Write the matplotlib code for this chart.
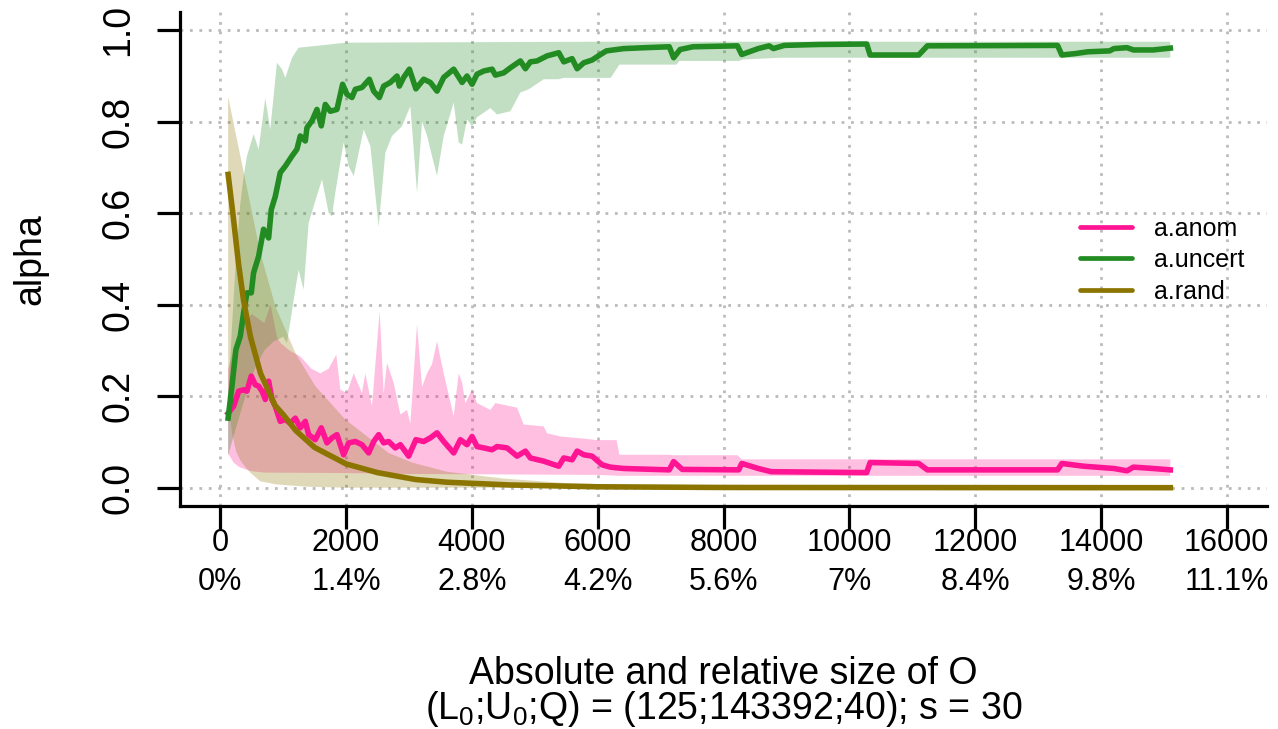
import numpy as np
import matplotlib
matplotlib.use("Agg")
import matplotlib.pyplot as plt

plt.rcParams['font.family'] = ['Liberation Sans', 'DejaVu Sans']
plt.rcParams['mathtext.fontset'] = 'custom'
plt.rcParams['mathtext.rm'] = 'Liberation Sans'
plt.rcParams['mathtext.it'] = 'Liberation Sans'
plt.rcParams['mathtext.default'] = 'regular'

# ---------------- data ----------------
# a.uncert mean
unc_x = [125, 186, 249, 318, 371, 424, 493, 530, 610, 689, 769, 811, 875, 954, 1034, 1140,
         1219, 1272, 1352, 1378, 1458, 1537, 1606, 1670, 1749, 1855, 1945, 2014, 2094, 2147,
         2253, 2370, 2439, 2529, 2598, 2704, 2810, 2847, 2916, 3006, 3110, 3234, 3340, 3446,
         3552, 3711, 3844, 3923, 4003, 4082, 4188, 4321, 4374, 4506, 4612, 4771, 4851, 4930,
         5036, 5195, 5381, 5461, 5593, 5673, 5779, 5911, 6044, 6138, 6414, 6759, 7138, 7207,
         7310, 7517, 8221, 8290, 8552, 8724, 8793, 8966, 9517, 10276, 10331, 11103, 11241,
         13310, 13379, 13586, 13793, 14138, 14207, 14414, 14517, 14828, 15103]
unc_y = [.152, .222, .302, .331, .382, .426, .426, .470, .506, .565, .546, .608, .637, .689, .703, .725,
         .740, .769, .758, .787, .802, .827, .791, .838, .823, .827, .882, .860, .853, .871,
         .875, .893, .867, .853, .878, .886, .900, .878, .897, .915, .872, .893, .886, .867,
         .897, .915, .886, .900, .882, .904, .911, .915, .902, .907, .918, .933, .916, .931,
         .933, .944, .951, .931, .938, .916, .929, .935, .947, .955, .960, .962, .964, .940,
         .958, .964, .966, .947, .960, .966, .960, .967, .969, .970, .946, .946, .966,
         .967, .946, .949, .953, .955, .960, .962, .957, .957, .961]

# a.uncert band
unc_up_x = [125, 186, 249, 318, 371, 424, 530, 610, 716, 795, 901, 981, 1034, 1140, 1246, 1600,
            2000, 6000, 15103]
unc_up_y = [.20, .35, .50, .62, .68, .725, .773, .74, .852, .783, .929, .915, .896, .94, .962, .967,
            .973, .975, .975]
unc_lo_x = [125, 186, 249, 400, 550, 700, 850, 1000, 1060, 1193, 1246, 1325, 1405, 1511, 1617,
            1723, 1776, 1829, 1961, 2041, 2121, 2200, 2280, 2386, 2518, 2624, 2730, 2889, 3022,
            3128, 3208, 3287, 3366, 3446, 3552, 3711, 3790, 3844, 3923, 4003, 4082, 4295, 4400,
            4612, 4771, 4904, 5142, 5381, 5461, 6207, 6345, 7250, 7300, 8250, 8300, 8900, 15103]
unc_lo_y = [.07, .10, .13, .20, .26, .30, .32, .33, .316, .433, .476, .433, .579, .627, .674,
            .601, .593, .645, .755, .703, .681, .732, .783, .747, .571, .732, .769, .79, .834,
            .645, .80, .77, .725, .682, .769, .842, .755, .75, .805, .79, .81, .83, .816,
            .823, .864, .871, .893, .893, .896, .896, .925, .925, .933, .933, .936, .940, .940]

# a.anom mean
anom_x = [125, 212, 292, 371, 424, 493, 557, 610, 663, 716, 769, 822, 875, 954, 1034, 1113,
          1193, 1272, 1352, 1405, 1511, 1606, 1696, 1776, 1855, 1961, 2041, 2147, 2253, 2359,
          2439, 2518, 2598, 2677, 2783, 2863, 2995, 3110, 3234, 3340, 3446, 3552, 3711, 3817,
          3923, 4003, 4082, 4188, 4321, 4400, 4559, 4718, 4851, 4930, 5142, 5381, 5461, 5593,
          5673, 5779, 5911, 6070, 6200, 6414, 7138, 7207, 7345, 8241, 8290, 8552, 8759, 10276,
          10331, 11103, 11241, 13310, 13379, 13724, 14207, 14414, 14517, 14828, 15103]
anom_y = [.163, .178, .211, .214, .211, .244, .225, .222, .211, .193, .233, .193, .178, .145, .149, .141,
          .152, .131, .145, .116, .105, .131, .098, .109, .116, .072, .098, .101, .094, .076,
          .101, .116, .098, .101, .087, .094, .069, .105, .101, .109, .120, .101, .076, .105,
          .094, .112, .090, .087, .083, .090, .087, .069, .080, .065, .058, .047, .065, .061,
          .080, .072, .069, .050, .045, .042, .039, .057, .040, .039, .053, .042, .035, .033,
          .055, .053, .039, .039, .053, .047, .042, .037, .045, .042, .039]

# a.anom band
anom_up_x = [125, 212, 292, 400, 500, 600, 700, 800, 900, 954, 1100, 1272, 1450, 1590, 1723, 1845,
             1909, 2015, 2121, 2253, 2306, 2412, 2534, 2598, 2651, 2757, 2863, 2969, 3022, 3128,
             3208, 3287, 3366, 3446, 3552, 3711, 3790, 3844, 3897, 4003, 4082, 4295, 4374, 4718,
             4824, 5142, 5195, 5408, 5726, 6000, 6300, 6345, 7138, 7207, 8221, 8290, 15103]
anom_up_y = [.26, .30, .33, .36, .38, .37, .36, .40, .33, .317, .30, .287, .26, .25, .26, .291,
             .214, .207, .25, .207, .25, .178, .386, .207, .273, .229, .16, .17, .14, .357,
             .22, .25, .27, .32, .25, .156, .25, .23, .185, .215, .185, .17, .185, .175,
             .138, .134, .119, .112, .108, .104, .104, .072, .072, .071, .071, .062, .062]
anom_lo_x = [125, 212, 292, 400, 500, 700, 2000, 3000, 6000, 6345, 15103]
anom_lo_y = [.075, .055, .046, .040, .036, .033, .032, .030, .028, .026, .026]

# a.rand mean
rand_x = [125, 200, 290, 370, 480, 640, 870, 1000, 1200, 1500, 1750, 2000, 2500, 3100, 3600,
          4600, 6000, 8000, 15103]
rand_y = [.685, .60, .49, .41, .33, .25, .18, .16, .125, .088, .07, .052, .033, .018, .012,
          .006, .002, .0005, 0.0]

# a.rand band
rand_up_x = [125, 636, 875, 1193, 1511, 1988, 2677, 3050, 3600, 4500, 5500, 7000, 9000, 15103]
rand_up_y = [.855, .514, .397, .295, .222, .149, .076, .055, .035, .02, .01, .004, .001, 0.0]
rand_lo_x = [125, 186, 250, 318, 400, 477, 636, 901, 1400, 2000, 15103]
rand_lo_y = [.20, .12, .08, .06, .045, .033, .014, .007, .002, 0.0, 0.0]

xtick_vals = [0, 2000, 4000, 6000, 8000, 10000, 12000, 14000, 16000]
xtick_pct = ["0%", "1.4%", "2.8%", "4.2%", "5.6%", "7%", "8.4%", "9.8%", "11.1%"]
ytick_vals = [0.0, 0.2, 0.4, 0.6, 0.8, 1.0]
series_names = ["a.anom", "a.uncert", "a.rand"]

c_anom = '#FF1493'
c_unc = '#228B22'
c_rand = '#8B7500'

# ---------------- figure ----------------
W, H = 1278, 729
fig = plt.figure(figsize=(W / 100, H / 100), dpi=100)
ax = fig.add_axes([180 / W, 1 - 506 / H, (1267 - 180) / W, (506 - 12) / H])
ax.set_xlim(-640, 16640)
ax.set_ylim(-0.04, 1.04)

ax.set_axisbelow(True)
ax.set_xticks(xtick_vals)
ax.set_yticks(ytick_vals)
ax.grid(True, color='#BBBBBB', linestyle=(0, (1, 2.4)), linewidth=2.0)


def band(xu, yu, xl, yl, color):
    ax.fill(np.r_[xu, xl[::-1]], np.r_[yu, yl[::-1]], color=color, alpha=0.27, lw=0)


lw = 4.0
band(anom_up_x, anom_up_y, anom_lo_x, anom_lo_y, c_anom)
l1, = ax.plot(anom_x, anom_y, color=c_anom, lw=lw, solid_joinstyle='round')
band(unc_up_x, unc_up_y, unc_lo_x, unc_lo_y, c_unc)
l2, = ax.plot(unc_x, unc_y, color=c_unc, lw=lw, solid_joinstyle='round')
band(rand_up_x, rand_up_y, rand_lo_x, rand_lo_y, c_rand)
l3, = ax.plot(rand_x, rand_y, color=c_rand, lw=lw, solid_joinstyle='round')

for s in ['top', 'right']:
    ax.spines[s].set_visible(False)
for s in ['left', 'bottom']:
    ax.spines[s].set_linewidth(2.3)

ax.set_xticklabels([f"{v}\n{p}" for v, p in zip(xtick_vals, xtick_pct)], linespacing=1.4)
ax.set_yticklabels([f"{v:.1f}" for v in ytick_vals])
ax.tick_params(axis='both', direction='out', length=16.5, width=2.3, color='black')
ax.tick_params(axis='x', labelsize=22, pad=-1)
ax.tick_params(axis='y', labelsize=27, pad=15, labelrotation=90)
for lab in ax.get_yticklabels():
    lab.set_va('center')

leg = ax.legend([l1, l2, l3], series_names, loc='center left',
                bbox_to_anchor=(1080 / W, 1 - 260 / H), bbox_transform=fig.transFigure,
                frameon=False, fontsize=18, handlelength=2.08, handletextpad=0.88,
                labelspacing=0.3, borderpad=0, borderaxespad=0)
for h in leg.get_lines():
    h.set_linewidth(3.4)
    h.set_solid_capstyle('round')

fig.text(30 / W, 1 - 259 / H, "alpha", rotation=90, ha='center', va='center', fontsize=27)
fig.text(723.5 / W, 1 - 684 / H, "Absolute and relative size of O", ha='center',
         va='baseline', fontsize=27)
fig.text(723.5 / W, 1 - 719 / H, r"(L$_0$;U$_0$;Q) = (125;143392;40); s = 30", ha='center',
         va='baseline', fontsize=27)

fig.savefig("out.png", dpi=100)
